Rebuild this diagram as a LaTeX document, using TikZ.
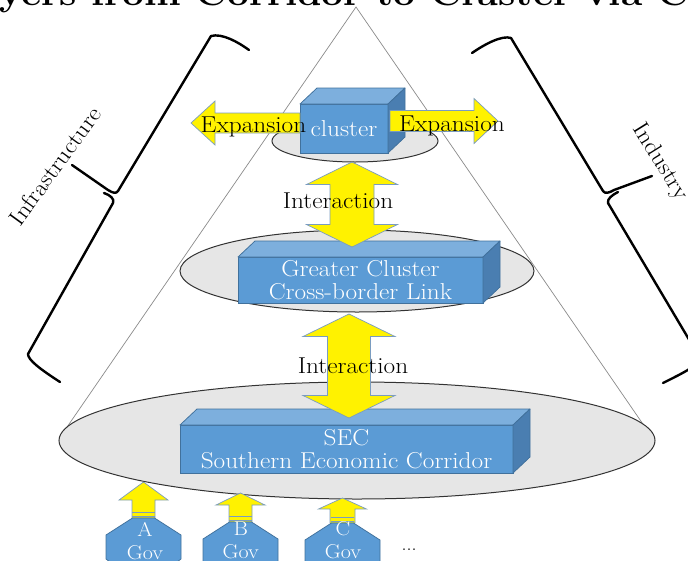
\documentclass[tikz,border=0pt]{standalone}
\usepackage{graphicx}
\usetikzlibrary{calc,shapes.geometric}

\definecolor{boxfront}{HTML}{5B9BD5}
\definecolor{boxtop}{HTML}{7DAFDD}
\definecolor{boxside}{HTML}{4A7EB1}
\definecolor{boxline}{HTML}{41719C}
\definecolor{layerfill}{HTML}{E6E6E6}
\definecolor{arrowline}{HTML}{7A9CC0}
\definecolor{coneline}{HTML}{8A8A8A}

% slightly widened lettering
\newcommand\stretchtext[1]{\scalebox{1.1}[1]{#1}}

% top and right faces of a cuboid whose front face is node #1
\newcommand\cubefaces[1]{%
  \draw[topface] (#1.north west) -- ++(17,-16) -- ($(#1.north east)+(17,-16)$) -- (#1.north east) -- cycle;
  \draw[sideface] (#1.north east) -- ++(17,-16) -- ($(#1.south east)+(17,-16)$) -- (#1.south east) -- cycle;}

% block arrow: #1 tail, #2 tip, #3 half head width, #4 half shaft width, #5 head length
\newcommand\sglarrow[5]{%
  \coordinate (hb) at ($(#2)!#5!(#1)$);
  \draw[yarrow] ($(#1)!#4!90:(#2)$) -- ($(hb)!#4!-90:(#1)$) -- ($(hb)!#3!-90:(#1)$) -- (#2)
    -- ($(hb)!#3!90:(#1)$) -- ($(hb)!#4!90:(#1)$) -- ($(#1)!#4!-90:(#2)$) -- cycle;}

% two-headed block arrow: #1 and #2 tips, #3 half head width, #4 half shaft width, #5 head length
\newcommand\dblarrow[5]{%
  \coordinate (ha) at ($(#1)!#5!(#2)$);
  \coordinate (hb) at ($(#2)!#5!(#1)$);
  \draw[yarrow] (#1) -- ($(ha)!#3!90:(#2)$) -- ($(ha)!#4!90:(#2)$) -- ($(hb)!#4!-90:(#1)$)
    -- ($(hb)!#3!-90:(#1)$) -- (#2) -- ($(hb)!#3!90:(#1)$) -- ($(hb)!#4!90:(#1)$)
    -- ($(ha)!#4!-90:(#2)$) -- ($(ha)!#3!-90:(#2)$) -- cycle;}

% octagon around centre #1
\newcommand\govshape[1]{%
  \draw[govfill] ($(#1)+(-11,-30)$) -- ($(#1)+(11,-30)$) -- ($(#1)+(37.5,-13)$) -- ($(#1)+(37.5,11)$)
    -- ($(#1)+(12,30)$) -- ($(#1)+(-12,30)$) -- ($(#1)+(-37.5,11)$) -- ($(#1)+(-37.5,-13)$) -- cycle;}

\begin{document}
\begin{tikzpicture}[x=1pt,y=-1pt,
  cone/.style={draw=coneline,line width=0.7pt},
  bracket/.style={draw=black,line width=2.4pt,line cap=round,line join=round},
  layer/.style={ellipse,draw=black!80,line width=1pt,fill=layerfill,inner sep=0pt},
  frontface/.style={rectangle,draw=boxline,line width=0.75pt,fill=boxfront,inner sep=0pt,outer sep=0pt,
    text=white,align=center,font=\fontsize{23}{23}\selectfont},
  topface/.style={draw=boxline,line width=0.75pt,fill=boxtop,line join=round},
  sideface/.style={draw=boxline,line width=0.75pt,fill=boxside,line join=round},
  yarrow/.style={draw=arrowline,line width=0.7pt,fill=yellow,line join=miter},
  lbl/.style={font=\fontsize{23}{23}\selectfont,inner sep=0pt},
  govfill/.style={draw=boxline,line width=0.75pt,fill=boxfront},
  govtext/.style={text=white,align=center,font=\fontsize{20}{23}\selectfont,inner sep=0pt},
]
\useasboundingbox (0,0) rectangle (688,560);
\clip (0,0) rectangle (688,560);

% heading
\node[anchor=base west,inner sep=0pt,font=\fontsize{37}{37}\selectfont\bfseries] (title) at (-1,5)
  {\scalebox{1.055}[1]{yers from Corridor to Cluster via C}};

% cone
\coordinate (apex) at (356,7);
\coordinate (baseL) at (65,430);
\coordinate (baseR) at (647,430);
\draw[cone] (apex) -- (baseL) -- (baseR) -- cycle;

% brackets
\draw[bracket] (249,50) .. controls (238,42) and (222,33) .. (211,36) -- (118,191)
  .. controls (116,194) and (113,193) .. (108,190) -- (72,165);
\draw[bracket] (104,193) .. controls (110,195) and (115,199) .. (113,203) -- (28,354)
  .. controls (28,360) and (40,369) .. (60,382);
\draw[bracket] (472,53) .. controls (485,44) and (502,35) .. (511,38) -- (603,191)
  .. controls (605,194) and (609,193) .. (614,190) -- (652,176);
\draw[bracket] (618,192) .. controls (612,195) and (607,199) .. (608,203) -- (700,358)
  .. controls (699,365) and (685,372) .. (663,383);
\node[lbl,rotate=54] (infra) at (55,166) {\stretchtext{Infrastructure}};
\node[lbl,rotate=-58] (indus) at (660,162) {\stretchtext{Industry}};

% bottom layer
\node[layer,minimum width=596pt,minimum height=117pt] (secLayer) at (357,440.5) {};
\node[frontface,minimum width=333pt,minimum height=48pt] (sec) at (346.5,449)
  {\stretchtext{SEC}\\\stretchtext{Southern Economic Corridor}};
\cubefaces{sec}

% middle layer
\node[layer,minimum width=354pt,minimum height=82pt] (gcLayer) at (357,271) {};
\node[frontface,minimum width=245pt,minimum height=46pt] (gc) at (360.5,280)
  {\stretchtext{Greater Cluster}\\\stretchtext{Cross-border Link}};
\cubefaces{gc}

% top layer
\node[layer,minimum width=166pt,minimum height=42pt] (clLayer) at (355,141) {};
\node[frontface,minimum width=88pt,minimum height=49pt] (cl) at (344,128.5) {\stretchtext{cluster}};
\cubefaces{cl}

% expansion arrows
\coordinate (expLtail) at (300,123);
\coordinate (expLtip) at (191,123);
\sglarrow{expLtail}{expLtip}{22pt}{10pt}{24pt}
\coordinate (expRtail) at (390,121);
\coordinate (expRtip) at (498,121);
\sglarrow{expRtail}{expRtip}{22.5pt}{10.5pt}{24pt}
\node[lbl,anchor=base] (expL) at (253.5,132) {\stretchtext{Expansion}};
\node[lbl,anchor=base] (expR) at (452,131) {\stretchtext{Expansion}};

% interaction arrows
\coordinate (int1a) at (352,162);
\coordinate (int1b) at (352,247);
\dblarrow{int1a}{int1b}{45.5pt}{22pt}{22.5pt}
\coordinate (int2a) at (349,314);
\coordinate (int2b) at (349,418);
\dblarrow{int2a}{int2b}{46pt}{21.5pt}{22.5pt}
\node[lbl,anchor=base] (int1) at (338,208) {\stretchtext{Interaction}};
\node[lbl,anchor=base] (int2) at (353,373) {\stretchtext{Interaction}};

% governments
\coordinate (govA) at (143.5,548);
\coordinate (govB) at (240.5,552);
\coordinate (govC) at (342.5,553);
\coordinate (topA) at (143.5,518);
\coordinate (topB) at (240.5,522);
\coordinate (topC) at (342.5,523);
\coordinate (upA) at (143.5,482);
\coordinate (upB) at (240.5,493);
\coordinate (upC) at (342.5,498);
\sglarrow{topA}{upA}{24.5pt}{11.5pt}{18pt}
\sglarrow{topB}{upB}{24.5pt}{11.5pt}{12pt}
\sglarrow{topC}{upC}{24pt}{12.5pt}{11pt}
\foreach \g in {topA,topB,topC}{
  \draw[arrowline,line width=0.8pt] ($(\g)+(-11.5,-5.5)$) -- ($(\g)+(11.5,-5.5)$);
  \draw[arrowline,line width=0.8pt] ($(\g)+(-11.5,-2)$) -- ($(\g)+(11.5,-2)$);
}
\govshape{govA}
\govshape{govB}
\govshape{govC}
\node[govtext] (govAtxt) at (145,540.6) {\stretchtext{A}\\\stretchtext{Gov}};
\node[govtext] (govBtxt) at (240.7,540.6) {\stretchtext{B}\\\stretchtext{Gov}};
\node[govtext] (govCtxt) at (343,540.6) {\stretchtext{C}\\\stretchtext{Gov}};
\node[lbl,anchor=base,font=\fontsize{20}{20}\selectfont] (more) at (409,550) {...};
\end{tikzpicture}
\end{document}
